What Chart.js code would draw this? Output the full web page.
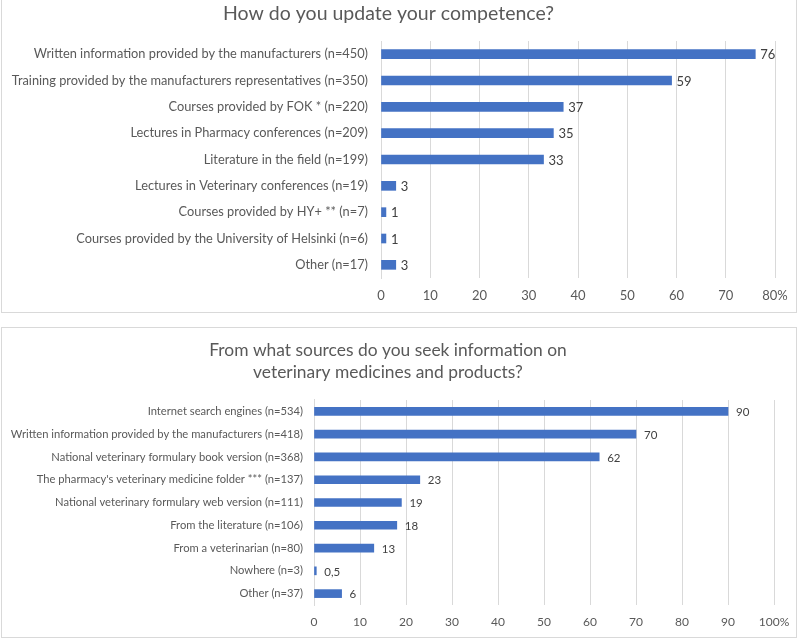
<!DOCTYPE html>
<html>
<head>
<meta charset="utf-8">
<script src="https://cdn.jsdelivr.net/npm/chart.js@4.4.1/dist/chart.umd.min.js"></script>
<style>
  html, body { margin: 0; padding: 0; background: #fff; width: 799px; height: 642px; overflow: hidden; }
  .box { position: absolute; border: 1px solid #d9d9d9; box-sizing: border-box; }
  .cv { position: absolute; }
</style>
</head>
<body>
<div class="box" style="left:1px; top:-1px; width:796px; height:314px;"></div>
<div class="box" style="left:1px; top:327px; width:796px; height:311px;"></div>
<canvas id="c1" class="cv" style="left:2px; top:0px; width:794px; height:311px;" width="794" height="311"></canvas>
<canvas id="c2" class="cv" style="left:2px; top:328px; width:794px; height:309px;" width="794" height="309"></canvas>
<script>
const competenceTitle = "How do you update your competence?";
const competenceLabels = [
  "Written information provided by the manufacturers (n=450)",
  "Training provided by the manufacturers representatives (n=350)",
  "Courses provided by FOK * (n=220)",
  "Lectures in Pharmacy conferences (n=209)",
  "Literature in the field (n=199)",
  "Lectures in Veterinary conferences (n=19)",
  "Courses provided by HY+ ** (n=7)",
  "Courses provided by the University of Helsinki (n=6)",
  "Other (n=17)"
];
const competenceValues = [76, 59, 37, 35, 33, 3, 1, 1, 3];
const competenceAxisMax = 80;

const sourcesTitle = ["From what sources do you seek information on", "veterinary medicines and products?"];
const sourcesLabels = [
  "Internet search engines (n=534)",
  "Written information provided by the manufacturers (n=418)",
  "National veterinary formulary book version (n=368)",
  "The pharmacy's veterinary medicine folder *** (n=137)",
  "National veterinary formulary web version (n=111)",
  "From the literature (n=106)",
  "From a veterinarian (n=80)",
  "Nowhere (n=3)",
  "Other (n=37)"
];
const sourcesValues = [90, 70, 62, 23, 19, 18, 13, 0.5, 6];
const sourcesAxisMax = 100;

const FONT = "Lato, 'Noto Sans', sans-serif";
const BAR = '#4472C4';
const GRID = '#d9d9d9';
const TXT = '#595959';

function valueLabels(fontSize, gap) {
  return {
    id: 'valueLabels',
    afterDatasetsDraw(chart) {
      const ctx = chart.ctx;
      const meta = chart.getDatasetMeta(0);
      const data = chart.data.datasets[0].data;
      ctx.save();
      ctx.font = fontSize + 'px ' + FONT;
      ctx.fillStyle = '#404040';
      ctx.textAlign = 'left';
      ctx.textBaseline = 'middle';
      meta.data.forEach((el, i) => {
        ctx.fillText(String(data[i]).replace('.', ','), el.x + gap, el.y + 1);
      });
      ctx.restore();
    }
  };
}

function makeChart(id, labels, values, title, axisMax, cfg) {
  return new Chart(document.getElementById(id), {
    type: 'bar',
    data: {
      labels: labels,
      datasets: [{
        data: values,
        backgroundColor: BAR,
        borderWidth: 0,
        barThickness: cfg.barThickness
      }]
    },
    options: {
      indexAxis: 'y',
      responsive: false,
      animation: false,
      layout: { padding: { left: 0, right: cfg.padRight, top: 0, bottom: 0 } },
      plugins: {
        legend: { display: false },
        tooltip: { enabled: false },
        title: {
          display: true,
          text: title,
          color: TXT,
          font: { family: FONT, size: cfg.titleSize, weight: 'normal', lineHeight: cfg.titleLH },
          padding: { top: cfg.titlePadTop, bottom: cfg.titlePadBottom }
        }
      },
      scales: {
        x: {
          min: 0,
          max: axisMax,
          ticks: {
            stepSize: 10,
            color: TXT,
            font: { family: FONT, size: cfg.tickSize },
            padding: cfg.xTickPad,
            callback: (v) => v === axisMax ? v + '%' : String(v)
          },
          grid: { color: GRID, drawTicks: false },
          border: { display: false },
          afterFit: (s) => { s.height = cfg.xAxisHeight; s.paddingLeft = 0; s.paddingRight = 0; }
        },
        y: {
          ticks: {
            color: TXT,
            font: { family: FONT, size: cfg.labelSize },
            padding: cfg.yTickPad,
            autoSkip: false
          },
          grid: { display: false, drawTicks: false },
          border: { display: true, color: GRID },
          afterFit: (s) => { s.width = cfg.yAxisWidth; s.paddingTop = 0; s.paddingBottom = 0; }
        }
      }
    },
    plugins: [valueLabels(cfg.valueSize, cfg.valueGap)]
  });
}

makeChart('c1', competenceLabels, competenceValues, competenceTitle, competenceAxisMax, {
  barThickness: 9, padRight: 21, titleSize: 19.5, titleLH: 1.2, titlePadTop: 2.3, titlePadBottom: 15.3,
  tickSize: 13, xTickPad: 10, xAxisHeight: 33, labelSize: 12.8, yTickPad: 13, yAxisWidth: 379,
  valueSize: 13, valueGap: 5
});

makeChart('c2', sourcesLabels, sourcesValues, sourcesTitle, sourcesAxisMax, {
  barThickness: 8, padRight: 22, titleSize: 17.4, titleLH: 1.264, titlePadTop: 11, titlePadBottom: 17,
  tickSize: 12, xTickPad: 10, xAxisHeight: 32, labelSize: 11.2, yTickPad: 11, yAxisWidth: 312,
  valueSize: 11.5, valueGap: 8
});
</script>
</body>
</html>
